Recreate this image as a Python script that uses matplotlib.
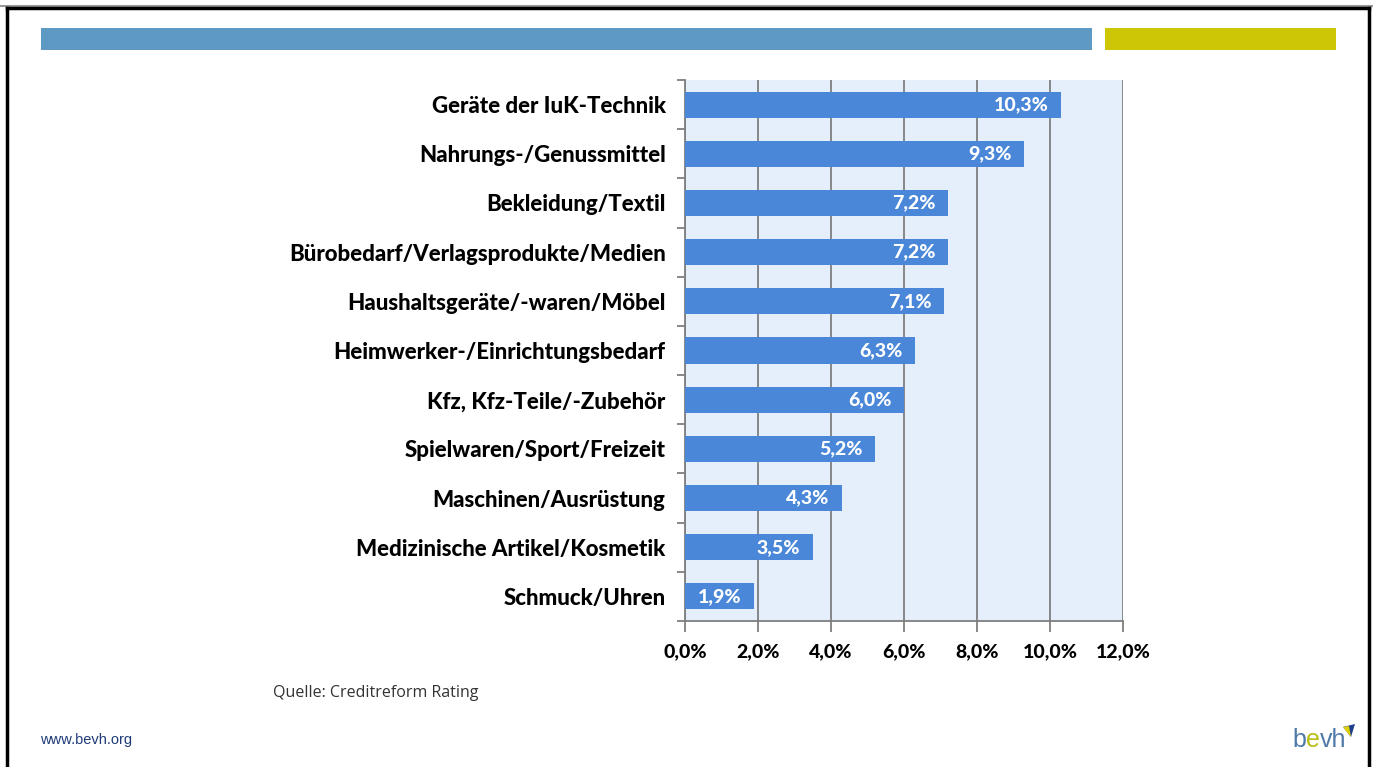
import numpy as np
import matplotlib.pyplot as plt
from matplotlib.patches import Rectangle, Polygon
from matplotlib.lines import Line2D
from matplotlib.ticker import FixedLocator

# Anteil je Warengruppe (in Prozent)
kategorien = [
    "Geräte der IuK-Technik",
    "Nahrungs-/Genussmittel",
    "Bekleidung/Textil",
    "Bürobedarf/Verlagsprodukte/Medien",
    "Haushaltsgeräte/-waren/Möbel",
    "Heimwerker-/Einrichtungsbedarf",
    "Kfz, Kfz-Teile/-Zubehör",
    "Spielwaren/Sport/Freizeit",
    "Maschinen/Ausrüstung",
    "Medizinische Artikel/Kosmetik",
    "Schmuck/Uhren",
]
werte = [10.3, 9.3, 7.2, 7.2, 7.1, 6.3, 6.0, 5.2, 4.3, 3.5, 1.9]
x_ticks = [0, 2, 4, 6, 8, 10, 12]

W, H = 1373, 767
fig = plt.figure(figsize=(W / 100, H / 100), dpi=100)
fig.patch.set_facecolor("white")

schrift = ["Lato", "DejaVu Sans"]
gewicht = "black"

# Rahmen der Folie
fig.add_artist(Line2D([0, 1], [1 - 6 / H, 1 - 6 / H], color="#9a9a9a", lw=1.5))
fig.add_artist(Line2D([7 / W, 1369 / W], [1 - 8 / H, 1 - 8 / H], color="black", lw=2.5))
fig.add_artist(Line2D([7 / W, 7 / W], [0, 1 - 8 / H], color="black", lw=2.5))
fig.add_artist(Line2D([1369 / W, 1369 / W], [0, 1 - 8 / H], color="black", lw=2.5))

# Farbbalken oben
fig.add_artist(Rectangle((41 / W, 1 - 50 / H), (1092 - 41) / W, 22 / H,
                         transform=fig.transFigure, color="#5e99c3", lw=0))
fig.add_artist(Rectangle((1105 / W, 1 - 50 / H), (1336 - 1105) / W, 22 / H,
                         transform=fig.transFigure, color="#cdc607", lw=0))

# Diagramm
ax = fig.add_axes([685 / W, 1 - 621 / H, (1123 - 685) / W, (621 - 80) / H])
ax.set_facecolor("#e5effc")

y = np.arange(len(kategorien))
balken = ax.barh(y, werte, height=0.53, color="#4a87d8", zorder=3)

for b, v in zip(balken, werte):
    ax.annotate(f"{v:.1f}%".replace(".", ","),
                xy=(b.get_width(), b.get_y() + b.get_height() / 2),
                xytext=(-9, 0), textcoords="offset points",
                ha="right", va="center", color="white",
                fontsize=14, fontweight=gewicht, family=schrift, zorder=4)

ax.set_xlim(0, 12)
ax.set_ylim(len(kategorien) - 0.5, -0.5)
ax.xaxis.set_major_locator(FixedLocator(x_ticks))
ax.set_xticklabels([f"{t:.1f}%".replace(".", ",") for t in x_ticks],
                   fontsize=14, fontweight=gewicht, family=schrift)
ax.grid(axis="x", color="#7f7f7f", lw=1.3, zorder=1)

ax.set_yticks(y)
ax.set_yticklabels(kategorien, fontsize=16, fontweight=gewicht, family=schrift)
ax.yaxis.set_minor_locator(FixedLocator(np.arange(-0.5, len(kategorien), 1)))
ax.tick_params(axis="y", which="major", length=0, pad=14)
ax.tick_params(axis="y", which="minor", length=6, color="#7f7f7f", width=1.3)
ax.tick_params(axis="x", length=8, color="#7f7f7f", width=1.3, pad=8)

for s in ["top", "right"]:
    ax.spines[s].set_visible(False)
for s in ["left", "bottom"]:
    ax.spines[s].set_color("#7f7f7f")
    ax.spines[s].set_linewidth(1.3)

# Quelle und Fußzeile
fig.text(273 / W, 1 - 693 / H, "Quelle: Creditreform Rating", fontsize=11.5,
         color="#333333", va="center", family=["Open Sans", "DejaVu Sans"])
fig.text(40 / W, 1 - 740 / H, "www.bevh.org", fontsize=10.5, color="#1f3b78",
         va="center", family=["Liberation Sans", "DejaVu Sans"])

# Logo-Schriftzug
logo = ["Liberation Sans", "DejaVu Sans"]
t1 = fig.text(1292 / W, 1 - 740 / H, "b", fontsize=18, color="#4f79a8",
              va="center", family=logo)
t2 = plt.annotate("e", xy=(1, 0), xycoords=t1, va="bottom", ha="left",
                  fontsize=18, color="#b7be14", family=logo, annotation_clip=False)
t3 = plt.annotate("vh", xy=(1, 0), xycoords=t2, va="bottom", ha="left",
                  fontsize=18, color="#4f79a8", family=logo, annotation_clip=False)
# kleines Logo-Symbol
fig.add_artist(Polygon([[1343 / W, 1 - 727 / H], [1355 / W, 1 - 724 / H],
                        [1351 / W, 1 - 737 / H]], closed=True,
                       transform=fig.transFigure, color="#1f3f8a", lw=0))
fig.add_artist(Polygon([[1343 / W, 1 - 727 / H], [1349 / W, 1 - 726 / H],
                        [1351 / W, 1 - 737 / H]], closed=True,
                       transform=fig.transFigure, color="#e0d200", lw=0))

fig.savefig("out.png", dpi=100)
